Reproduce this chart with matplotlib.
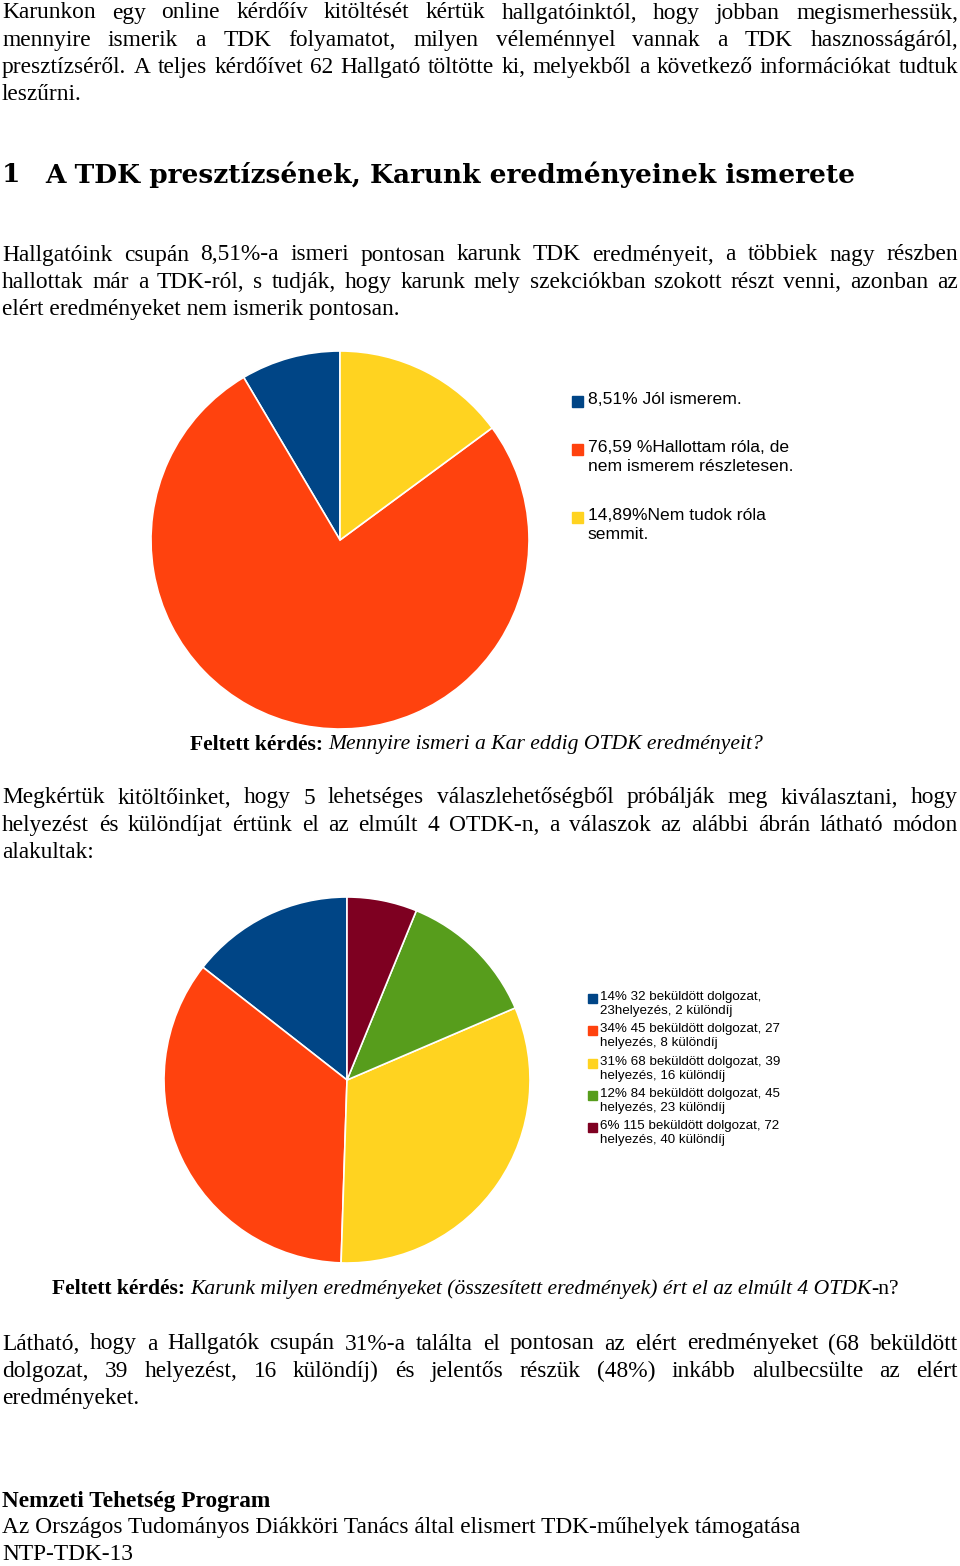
import matplotlib
matplotlib.use("Agg")
import matplotlib.pyplot as plt

W, H = 960, 1566
fig = plt.figure(figsize=(9.6, 15.66), dpi=100)
ax = fig.add_axes([0, 0, 1, 1])
ax.set_xlim(0, W); ax.set_ylim(0, H); ax.axis("off")
fig.canvas.draw()
R = fig.canvas.get_renderer()

# ---- data ----
pie1_labels = ["8,51% Jól ismerem.", "76,59 %Hallottam róla, de\nnem ismerem részletesen.", "14,89%Nem tudok róla\nsemmit."]
pie1_values = [8.51, 76.59, 14.89]
pie1_colors = ["#004586", "#ff420e", "#ffd320"]

pie2_labels = ["14% 32 beküldött dolgozat,\n23helyezés, 2 különdíj",
               "34% 45 beküldött dolgozat, 27\nhelyezés, 8 különdíj",
               "31% 68 beküldött dolgozat, 39\nhelyezés, 16 különdíj",
               "12% 84 beküldött dolgozat, 45\nhelyezés, 23 különdíj",
               "6% 115 beküldött dolgozat, 72\nhelyezés, 40 különdíj"]
pie2_values = [14, 34, 31, 12, 6]
pie2_colors = ["#004586", "#ff420e", "#ffd320", "#579d1c", "#7e0021"]

SERIF = "Liberation Serif"
SANS = "Liberation Sans"
FS = 16.8
CFS = 15.6

def Y(y): return H - y

def line(y, s, justify=True, x0=2, x1=958, **kw):
    kw.setdefault("fontsize", FS); kw.setdefault("family", SERIF)
    if not justify:
        ax.text(x0, Y(y), s, va="center", ha="left", **kw); return
    words = s.split(" ")
    ts = [ax.text(0, Y(y), w, va="center", ha="left", **kw) for w in words]
    ws = [t.get_window_extent(R).width for t in ts]
    gap = (x1 - x0 - sum(ws)) / max(len(words) - 1, 1)
    x = x0
    for t, w in zip(ts, ws):
        t.set_x(x); x += w + gap

def para(y0, lines, dy=27.3):
    for i, l in enumerate(lines):
        line(y0 + i * dy, l, justify=(i < len(lines) - 1))

para(13, ["Karunkon egy online kérdőív kitöltését kértük hallgatóinktól, hogy jobban megismerhessük,",
          "mennyire ismerik a TDK folyamatot, milyen véleménnyel vannak a TDK hasznosságáról,",
          "presztízséről. A teljes kérdőívet 62 Hallgató töltötte ki, melyekből a következő információkat tudtuk",
          "leszűrni."])
ax.text(2, Y(175), "1", fontsize=19, fontweight="bold", family="DejaVu Serif", va="center")
ax.text(45, Y(175), "A TDK presztízsének, Karunk eredményeinek ismerete", fontsize=19,
        fontweight="bold", family="DejaVu Serif", va="center")
para(255, ["Hallgatóink csupán 8,51%-a ismeri pontosan karunk TDK eredményeit, a többiek nagy részben",
           "hallottak már a TDK-ról, s tudják, hogy karunk mely szekciókban szokott részt venni, azonban az",
           "elért eredményeket nem ismerik pontosan."])

# pie 1
ax.pie(pie1_values, colors=pie1_colors, startangle=90, center=(340, Y(540)), radius=189,
       wedgeprops=dict(edgecolor="white", linewidth=1.2), frame=True)
ax.set_xlim(0, W); ax.set_ylim(0, H); ax.set_aspect("auto"); ax.axis("off")
for lab, col, y in zip(pie1_labels, pie1_colors, [401, 449, 517]):
    ax.add_patch(plt.Rectangle((572, Y(y) - 5.5), 11, 11, color=col))
    ax.text(588, Y(y) + 9, lab, fontsize=12.6, family=SANS, va="top", linespacing=1.3)

def caption(x, y, parts):
    for s, kw in parts:
        t = ax.text(x, Y(y), s, fontsize=CFS, family=SERIF, va="center", **kw)
        x += t.get_window_extent(R).width

caption(190, 745, [("Feltett kérdés: ", dict(fontweight="bold")),
                   ("Mennyire ismeri a Kar eddig OTDK eredményeit?", dict(style="italic"))])

para(798, ["Megkértük kitöltőinket, hogy 5 lehetséges válaszlehetőségből próbálják meg kiválasztani, hogy",
           "helyezést és különdíjat értünk el az elmúlt 4 OTDK-n, a válaszok az alábbi ábrán látható módon",
           "alakultak:"])

# pie 2
ax.pie(pie2_values, colors=pie2_colors, startangle=90, center=(347, Y(1080)), radius=183,
       wedgeprops=dict(edgecolor="white", linewidth=1.2), frame=True)
ax.set_xlim(0, W); ax.set_ylim(0, H); ax.set_aspect("auto"); ax.axis("off")
for lab, col, y in zip(pie2_labels, pie2_colors, [998, 1030, 1063, 1095, 1127]):
    ax.add_patch(plt.Rectangle((588, Y(y) - 4.5), 9, 9, color=col))
    ax.text(600, Y(y) + 7, lab, fontsize=9.6, family=SANS, va="top", linespacing=1.25)

caption(52, 1289, [("Feltett kérdés: ", dict(fontweight="bold")),
                   ("Karunk milyen eredményeket (összesített eredmények) ért el az elmúlt 4 OTDK", dict(style="italic")),
                   ("-n?", dict())])

para(1344, ["Látható, hogy a Hallgatók csupán 31%-a találta el pontosan az elért eredményeket (68 beküldött",
            "dolgozat, 39 helyezést, 16 különdíj) és jelentős részük (48%) inkább alulbecsülte az elért",
            "eredményeket."])

line(1501, "Nemzeti Tehetség Program", justify=False, fontweight="bold")
line(1528, "Az Országos Tudományos Diákköri Tanács által elismert TDK-műhelyek támogatása", justify=False)
line(1554, "NTP-TDK-13", justify=False)

fig.savefig("out.png", dpi=100)
